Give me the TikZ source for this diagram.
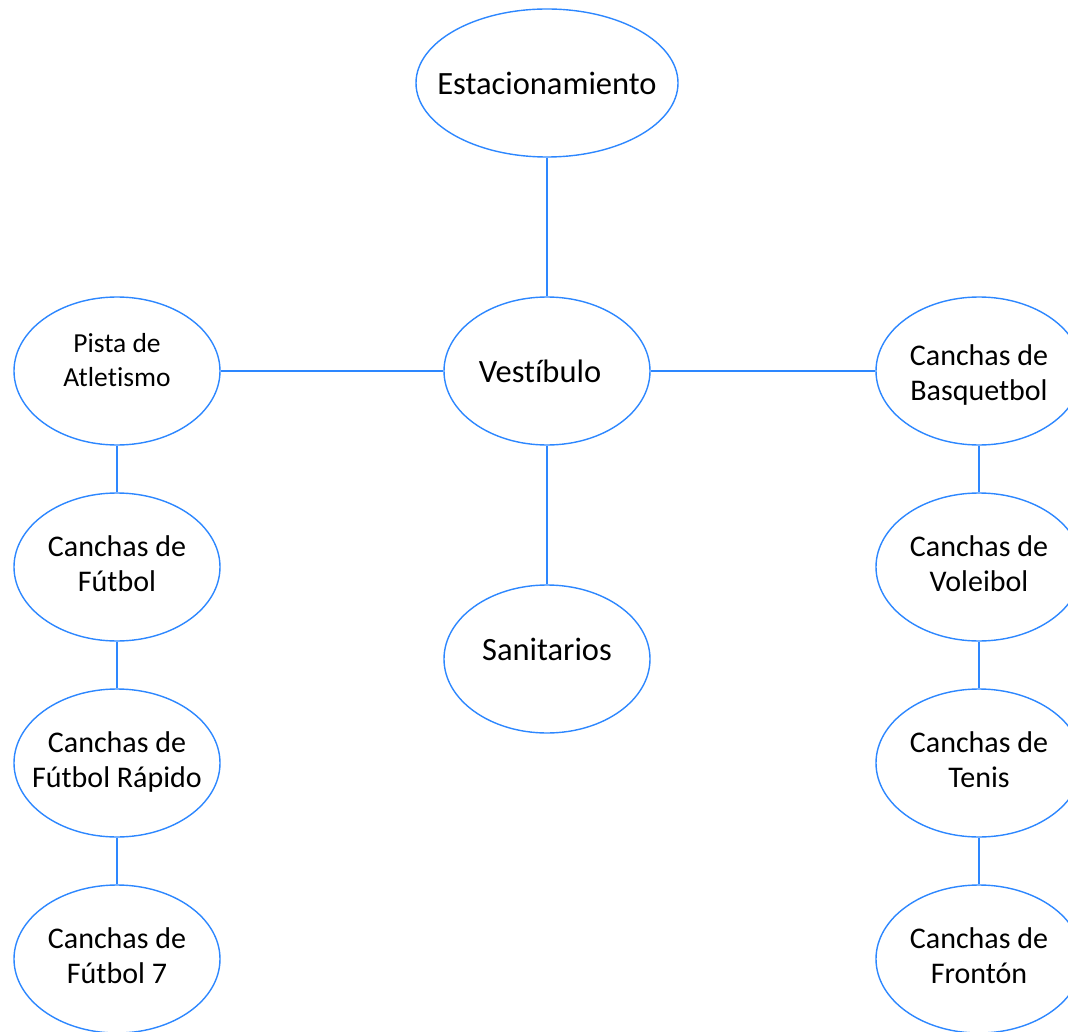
\documentclass[tikz,border=0pt]{standalone}
\usepackage{fontspec}
\setmainfont{Carlito}[Ligatures=NoCommon]
\usetikzlibrary{shapes.geometric}
\definecolor{azul}{RGB}{45,135,255}
% texto sin ancho, para que la elipse no crezca
\newcommand{\una}[1]{\makebox[0pt]{#1}}
\newcommand{\dos}[2]{\makebox[0pt]{\begin{tabular}{@{}c@{}}#1\\#2\end{tabular}}}

\begin{document}
\begin{tikzpicture}[x=1pt, y=-1pt,
  zona/.style={ellipse, draw=azul, line width=1.4pt, inner sep=0pt,
    minimum width=206pt, minimum height=148pt,
    font=\fontsize{30}{35}\selectfont},
  zonauna/.style={zona, font=\fontsize{32.5}{38}\selectfont},
  enlace/.style={draw=azul, line width=1.8pt}]
  \useasboundingbox (0,0) rectangle (1068,1032);
  \clip (0,0) rectangle (1068,1032);

  % columna central
  \node[zonauna, minimum width=262pt] (est) at (547,83) {\una{Estacionamiento}};
  \node[zonauna] (vest) at (547,371) {\una{Vestíbulo\hspace{14pt}}};
  \node[zonauna, text depth=20pt] (sanit) at (547,659) {\una{Sanitarios}};

  % columna izquierda
  \node[zona, font=\fontsize{27.5}{34}\selectfont, text depth=44pt] (pista) at (117,371) {\dos{Pista de}{Atletismo}};
  \node[zona] (futbol) at (117,567) {\dos{Canchas de}{Fútbol}};
  \node[zona] (rapido) at (117,763) {\dos{Canchas de}{Fútbol Rápido}};
  \node[zona] (siete) at (117,959) {\dos{Canchas de}{Fútbol 7}};

  % columna derecha
  \node[zona, text height=50.5pt] (basq) at (979,371) {\dos{Canchas de}{Basquetbol}};
  \node[zona] (vole) at (979,567) {\dos{Canchas de}{Voleibol}};
  \node[zona] (tenis) at (979,763) {\dos{Canchas de}{Tenis}};
  \node[zona] (fronton) at (979,959) {\dos{Canchas de}{Frontón}};

  \draw[enlace] (est) -- (vest);
  \draw[enlace] (vest) -- (sanit);
  \draw[enlace] (pista) -- (vest);
  \draw[enlace] (vest) -- (basq);
  \draw[enlace] (pista) -- (futbol);
  \draw[enlace] (futbol) -- (rapido);
  \draw[enlace] (rapido) -- (siete);
  \draw[enlace] (basq) -- (vole);
  \draw[enlace] (vole) -- (tenis);
  \draw[enlace] (tenis) -- (fronton);
\end{tikzpicture}
\end{document}
